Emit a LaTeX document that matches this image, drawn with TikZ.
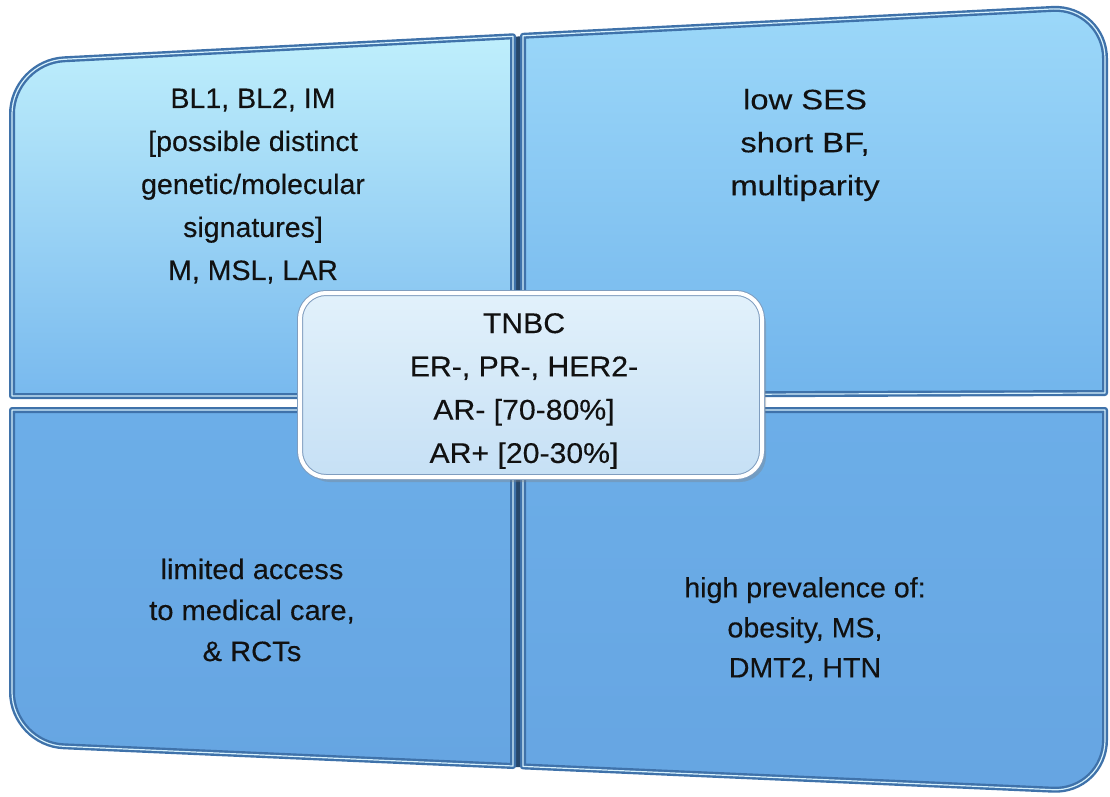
\documentclass[tikz,border=0pt]{standalone}
\usepackage{fontspec}
\setmainfont[FakeBold=0.3]{Liberation Sans}
\usetikzlibrary{shadows}
\definecolor{edge}{HTML}{3F72AA}
\definecolor{hilite}{HTML}{D6F1FC}
\definecolor{gap}{HTML}{27476B}
\definecolor{tlA}{HTML}{BFEFFC}
\definecolor{tlB}{HTML}{78B9EE}
\definecolor{trA}{HTML}{9CD8F9}
\definecolor{trB}{HTML}{72B5EC}
\definecolor{blA}{HTML}{6CAEE8}
\definecolor{blB}{HTML}{66A5E2}
\definecolor{boxA}{HTML}{E2F1FB}
\definecolor{boxB}{HTML}{C6E0F5}
\definecolor{boxEdge}{HTML}{7F9DBF}
\definecolor{ink}{HTML}{111111}
\newcommand{\qfont}[3]{\fontsize{#1}{#2}\selectfont\addfontfeatures{FakeStretch=#3}}
\tikzset{
  panel/.style={draw=edge, line width=6pt, line join=round},
  panelhi/.style={draw=hilite, line width=1.2pt, line join=round},
  quadtext/.style={align=center, text=ink, inner sep=0pt},
  centerbox/.style={rectangle, rounded corners=26pt, minimum width=462pt, minimum height=184pt,
    top color=boxA, bottom color=boxB, draw=boxEdge, double=white, double distance=4pt, line width=1pt,
    drop shadow={shadow xshift=4pt, shadow yshift=-5pt, opacity=0.35}}
}
\begin{document}
\begin{tikzpicture}[x=1pt,y=-1pt]
\useasboundingbox (0,0) rectangle (1110,797);
\fill[white] (0,0) rectangle (1110,797);
% dark vertical gap
\fill[gap] (510,37) -- (526,36) -- (526,767) -- (510,767) -- cycle;
% top-left panel
\path[panel, top color=tlA, bottom color=tlB]
  (513,396) -- (513,36.3) -- (64,59.3) .. controls (35.3,60.8) and (12,85.3) .. (12,114) -- (12,396) -- cycle;
\draw[panelhi] (513,396) -- (513,36.3) -- (64,59.3) .. controls (35.3,60.8) and (12,85.3) .. (12,114) -- (12,396) -- cycle;
% top-right panel
\path[panel, top color=trA, bottom color=trB]
  (523,395) -- (523,35.8) -- (1053,8.9) .. controls (1081.7,7.6) and (1105,29.8) .. (1105,58.5) -- (1105,393) -- cycle;
\draw[panelhi] (523,395) -- (523,35.8) -- (1053,8.9) .. controls (1081.7,7.6) and (1105,29.8) .. (1105,58.5) -- (1105,393) -- cycle;
% bottom-left panel
\path[panel, top color=blA, bottom color=blB]
  (12,410) -- (513,410) -- (513,766) -- (64,746.3) .. controls (35.3,745.3) and (12,720.7) .. (12,692) -- cycle;
\draw[panelhi] (12,410) -- (513,410) -- (513,766) -- (64,746.3) .. controls (35.3,745.3) and (12,720.7) .. (12,692) -- cycle;
% bottom-right panel
\path[panel, top color=blA, bottom color=blB]
  (523,410) -- (1105,410) -- (1105,740) .. controls (1105,768.7) and (1081.7,791) .. (1053,789.7) -- (523,766.4) -- cycle;
\draw[panelhi] (523,410) -- (1105,410) -- (1105,740) .. controls (1105,768.7) and (1081.7,791) .. (1053,789.7) -- (523,766.4) -- cycle;
% quadrant texts
\node[quadtext, font=\qfont{28}{43}{1.02}] (tl) at (253,186) {BL1, BL2, IM\\{[}possible distinct\\genetic/molecular\\signatures{]}\\M, MSL, LAR};
\node[quadtext, font=\qfont{28}{43}{1.17}] (tr) at (805,145) {low SES\\short BF,\\multiparity};
\node[quadtext, font=\qfont{28}{41}{1.04}] (bl) at (252,610) {limited access\\to medical care,\\\& RCTs};
\node[quadtext, font=\qfont{28}{40}{1.02}] (br) at (805,629) {high prevalence of:\\obesity, MS,\\DMT2, HTN};
% center box
\node[centerbox] (tnbcbox) at (531,385) {};
\node[quadtext, font=\qfont{28.5}{43.3}{1.06}] (tnbc) at (524,391) {TNBC\\ER-, PR-, HER2-\\AR- {[}70-80\%{]}\\AR+ {[}20-30\%{]}};
\end{tikzpicture}
\end{document}
